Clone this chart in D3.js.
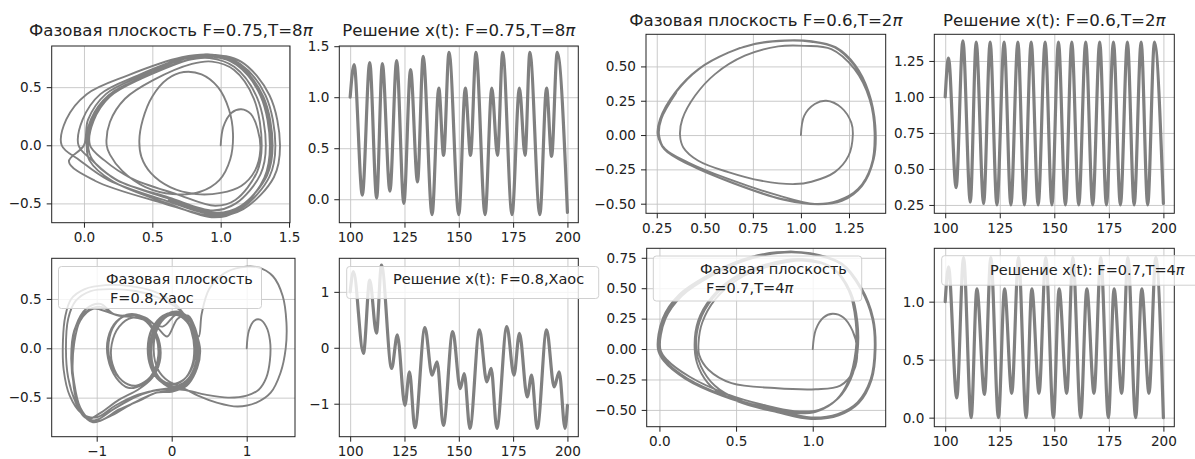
<!DOCTYPE html>
<html lang="ru">
<head>
<meta charset="UTF-8">
<title>Duffing</title>
<script src="https://cdn.jsdelivr.net/npm/d3@7"></script>
<style>
body { margin: 0; background: #fff; }
text { font-family: 'DejaVu Sans', sans-serif; fill: #222; }
.grid line { stroke: #c4c4c4; stroke-width: 0.9; }
.grid path { display: none; }
.ax path { display: none; }
.ax line { stroke: #222; }
.ax text { font-size: 13.6px; }
.trace { fill: none; stroke: #808080; stroke-linejoin: round; stroke-linecap: round; }
.title { font-size: 16.6px; text-anchor: middle; }
.leg rect { fill: #fff; fill-opacity: 0.8; stroke: #d0d0d0; }
.leg text { font-size: 14.5px; }
</style>
</head>
<body>
<svg width="1195" height="459"></svg>
<script>
// ---- tick labels ----
var ticksT = [100, 125, 150, 175, 200];
var ticksP1x = [0, 0.5, 1, 1.5], ticksP1y = [-0.5, 0, 0.5];
var ticksP2y = [0, 0.5, 1, 1.5];
var ticksP3x = [0.25, 0.5, 0.75, 1, 1.25], ticksP3y = [-0.5, -0.25, 0, 0.25, 0.5];
var ticksP4y = [0.25, 0.5, 0.75, 1, 1.25];
var ticksP5x = [-1, 0, 1], ticksP5y = [-0.5, 0, 0.5];
var ticksP6y = [-1, 0, 1];
var ticksP7x = [0, 0.5, 1], ticksP7y = [-0.5, -0.25, 0, 0.25, 0.5, 0.75];
var ticksP8y = [0, 0.5, 1];

// ---- x(t): turning points ----
var t75 = [100,101.8,105.6,109,112.2,114.8,118.3,121.4,124.7,127.8,131,133.6,137.7,140.8,143,145.5,150,153,155.4,157.9,162.1,165.2,167.8,170.2,174.5,177.9,180.5,182.7,187.3,190.4,192.7,195.3,200];
var x75 = [1.0,1.32,0.04,1.34,0.01,1.33,0.08,1.36,-0.04,1.27,0.17,1.40,-0.15,1.09,0.43,1.44,-0.15,1.09,0.43,1.44,-0.15,1.09,0.43,1.44,-0.15,1.09,0.43,1.44,-0.15,1.09,0.42,1.44,-0.13];

var t06 = [100,101.5,105,108.1,111.5,114.2,117.6,120.6,123.7,127.0,130.1,133.3,136.3,139.4,142.6,145.8,148.9,151.9,155.1,158.0,161.2,164.4,167.6,170.8,173.9,177.1,180.3,183.5,186.6,189.8,192.8,195.9,200];
var x06 = [1.0,1.27,0.37,1.39,0.27,1.38,0.26,1.38,0.25,1.38,0.25,1.38,0.25,1.38,0.25,1.38,0.25,1.38,0.25,1.38,0.25,1.38,0.25,1.38,0.25,1.38,0.25,1.38,0.25,1.38,0.25,1.38,0.26];

var t08 = [100,101.5,106.1,109,112.1,114.4,119.1,121.7,125.2,127.3,129.8,134.4,137.7,140,142.9,147.2,150.7,152.5,155.1,159.5,162.9,164.9,167.5,172.1,175.4,177.9,181.5,183.5,186.1,190.4,193.9,196.2,198.9,200];
var x08 = [1.0,1.36,-0.10,1.21,0.26,1.48,-0.37,0.23,-1.03,-0.43,-1.43,0.36,-0.49,-0.25,-1.39,0.29,-0.73,-0.46,-1.44,0.32,-0.61,-0.37,-1.44,0.38,-0.49,0.26,-0.88,-0.49,-1.44,0.32,-0.70,-0.43,-1.44,-1.03];

var t07 = [100,101.5,105.3,108.4,111.9,114.5,118,120.9,124.4,127.2,130.5,133.6,137.1,139.7,143,146.1,149.6,152.2,155.7,158.5,162.1,164.9,168.2,171.3,174.8,177.4,180.9,183.7,187.3,190.1,193.4,196.5,200];
var x07 = [1.0,1.30,0.17,1.38,0.0,1.11,0.20,1.38,0.0,1.11,0.21,1.38,0.0,1.11,0.21,1.38,0.0,1.11,0.21,1.38,0.0,1.11,0.21,1.38,0.0,1.11,0.21,1.38,0.0,1.11,0.21,1.38,0.0];

// ---- phase portraits [x, x'] ----
var phase75 = [
  [1.00,0.00],[1.02,0.16],[1.08,0.28],[1.15,0.31],[1.22,0.27],[1.27,0.14],[1.29,-0.04],[1.25,-0.22],[1.15,-0.35],[1.00,-0.41],
  [0.82,-0.42],[0.63,-0.36],[0.49,-0.24],[0.42,-0.10],[0.405,0.04],[0.43,0.22],[0.50,0.42],[0.61,0.57],[0.73,0.63],[0.86,0.61],
  [0.98,0.50],[1.06,0.31],[1.09,0.10],[1.07,-0.12],[0.99,-0.30],[0.85,-0.40],[0.65,-0.42],[0.45,-0.36],[0.28,-0.22],[0.19,-0.08],
  [0.166,0.00],[0.19,0.20],[0.30,0.40],[0.506,0.56],[0.79,0.70],[0.937,0.72],[1.096,0.65],[1.243,0.40],[1.30,0.00],[1.266,-0.23],
  [1.107,-0.47],[0.96,-0.52],[0.676,-0.42],[0.34,-0.28],[0.15,-0.13],
  [0.044,0.00],[0.07,0.21],[0.19,0.42],[0.43,0.58],[0.751,0.73],[0.918,0.75],[1.099,0.675],[1.266,0.41],[1.33,0.00],[1.291,-0.25],
  [1.111,-0.50],[0.944,-0.56],[0.623,-0.45],[0.24,-0.30],[0.06,-0.13],
  [-0.04,0.00],[-0.01,0.22],[0.12,0.44],[0.392,0.60],[0.752,0.757],[0.939,0.78],[1.141,0.70],[1.328,0.43],[1.40,0.00],[1.357,-0.27],
  [1.155,-0.54],[0.968,-0.60],[0.608,-0.48],[0.18,-0.30],[-0.03,-0.13],
  [-0.163,0.00],[-0.13,0.22],[0.02,0.44],[0.317,0.60],[0.717,0.757],[0.925,0.78],[1.149,0.72],[1.357,0.43],[1.434,0.00],[1.389,-0.275],
  [1.165,-0.55],[0.957,-0.61],[0.557,-0.49],[0.08,-0.305],[-0.11,-0.14],
  [0.00,0.00],[0.03,0.22],[0.16,0.44],[0.408,0.59],[0.748,0.747],[0.925,0.77],[1.115,0.693],[1.292,0.424],[1.36,0.00],[1.319,-0.28],
  [1.129,-0.56],[0.952,-0.62],[0.612,-0.50],[0.21,-0.31],[0.04,-0.13],
  [0.02,0.00],[0.05,0.22],[0.18,0.43],[0.428,0.585],[0.768,0.737],[0.945,0.76],[1.135,0.684],[1.312,0.418],[1.38,0.00],[1.339,-0.26],
  [1.149,-0.52],[0.972,-0.58],[0.632,-0.464],[0.23,-0.29],[0.06,-0.12],
  [0.03,0.00],[0.06,0.22],[0.19,0.44],[0.44,0.585],[0.78,0.74],[0.95,0.765],[1.14,0.69],[1.30,0.42],[1.37,0.00],[1.33,-0.27],
  [1.14,-0.53],[0.96,-0.59],[0.62,-0.47]
];

var phase06 = [
  [1.000,0.000],[1.017,0.140],[1.072,0.226],[1.132,0.250],[1.210,0.200],[1.262,0.090],[1.270,0.000],[1.248,-0.150],[1.176,-0.270],[1.055,-0.340],
  [0.968,-0.357],[0.795,-0.333],[0.622,-0.270],[0.466,-0.187],[0.388,-0.090],[0.371,0.000],[0.383,0.116],[0.449,0.286],[0.553,0.444],[0.708,0.578],
  [0.882,0.646],[1.020,0.650],[1.158,0.626],[1.279,0.480],[1.357,0.262],[1.383,0.019],[1.366,-0.223],[1.297,-0.393],[1.193,-0.478],[1.072,-0.502],
  [0.882,-0.440],[0.622,-0.320],[0.414,-0.200],[0.293,-0.100],[0.255,0.000],[0.267,0.116],[0.345,0.310],[0.466,0.480],[0.622,0.600],[0.760,0.663],
  [0.916,0.687],[1.054,0.680],[1.176,0.638],[1.279,0.505],[1.349,0.310],[1.383,0.068],[1.375,-0.175],[1.314,-0.369],[1.210,-0.478],[1.090,-0.502],
  [0.900,-0.465],[0.640,-0.345],[0.420,-0.215],[0.290,-0.105],[0.258,0.000],[0.270,0.120],[0.350,0.312],[0.470,0.482],[0.625,0.602],[0.763,0.666],
  [0.918,0.690],[1.056,0.684],[1.180,0.640],[1.283,0.508],[1.353,0.312],[1.387,0.070],[1.379,-0.175],[1.318,-0.370],[1.213,-0.480],[1.092,-0.505],
  [0.905,-0.470],[0.645,-0.350],[0.425,-0.220],[0.295,-0.110],[0.262,0.000],[0.274,0.118],[0.352,0.310]
];

var phase08 = [
  [1.00,0.00],[1.03,0.18],[1.10,0.28],[1.18,0.29],[1.26,0.22],[1.31,0.08],[1.31,-0.12],[1.26,-0.30],[1.16,-0.42],[1.00,-0.48],
  [0.75,-0.50],[0.45,-0.47],[0.15,-0.42],[-0.15,-0.42],[-0.45,-0.47],[-0.75,-0.58],[-1.00,-0.70],[-1.20,-0.66],[-1.36,-0.48],[-1.44,-0.22],
  [-1.45,0.08],[-1.42,0.32],[-1.34,0.50],[-1.16,0.60],[-0.88,0.64],[-0.55,0.63],[-0.25,0.58],[0.00,0.48],[0.15,0.36],
  [0.26,0.18],[0.30,0.00],[0.27,-0.18],[0.16,-0.32],[0.00,-0.37],[-0.16,-0.32],[-0.27,-0.17],[-0.31,0.02],[-0.26,0.20],[-0.12,0.33],
  [0.04,0.36],[0.19,0.29],[0.30,0.14],[0.34,-0.03],[0.30,-0.20],[0.18,-0.34],[0.00,-0.40],
  [-0.25,-0.43],[-0.50,-0.50],[-0.78,-0.62],[-1.02,-0.73],[-1.18,-0.68],[-1.28,-0.50],[-1.32,-0.25],[-1.30,0.05],[-1.22,0.28],[-1.05,0.40],[-0.86,0.37],
  [-0.70,0.33],[-0.52,0.34],[-0.34,0.27],[-0.21,0.12],[-0.17,-0.05],[-0.22,-0.22],[-0.36,-0.34],[-0.53,-0.38],[-0.70,-0.30],[-0.82,-0.13],
  [-0.84,0.06],[-0.76,0.24],[-0.60,0.34],[-0.42,0.33],[-0.26,0.22],[-0.16,0.05],[-0.16,-0.14],[-0.26,-0.30],[-0.45,-0.42],[-0.70,-0.52],
  [-0.96,-0.66],[-1.10,-0.71],[-1.22,-0.60],[-1.30,-0.35],[-1.33,-0.05],[-1.28,0.22],[-1.14,0.40],[-0.95,0.45],[-0.78,0.35],
  [-0.62,0.33],[-0.45,0.33],[-0.29,0.25],[-0.20,0.10],[-0.18,-0.08],[-0.25,-0.25],[-0.40,-0.37],[-0.58,-0.40],[-0.74,-0.30],[-0.85,-0.10],
  [-0.85,0.10],[-0.74,0.27],[-0.56,0.34],[-0.35,0.31],[-0.18,0.20],[-0.06,0.12],
  [0.08,0.30],[0.22,0.33],[0.32,0.18],[0.36,0.00],[0.32,-0.20],[0.20,-0.35],[0.02,-0.40],[-0.15,-0.33],[-0.26,-0.18],[-0.29,0.02],
  [-0.22,0.22],[-0.08,0.34],[0.10,0.37],[0.25,0.28],[0.36,0.12],
  [0.40,0.35],[0.50,0.60],[0.70,0.76],[0.92,0.82],[1.15,0.82],[1.35,0.73],[1.48,0.53],[1.53,0.26],[1.52,0.00],[1.45,-0.25],
  [1.32,-0.45],[1.13,-0.55],[0.88,-0.59],[0.60,-0.55],[0.35,-0.48],[0.15,-0.40],[-0.05,-0.33],[-0.18,-0.22],[-0.24,-0.02],[-0.19,0.20],
  [-0.05,0.33],[0.12,0.36],[0.27,0.27],[0.35,0.10],[0.37,-0.08],[0.32,-0.24],[0.20,-0.38],[0.00,-0.44],[-0.20,-0.45],[-0.40,-0.52],
  [-0.70,-0.62],[-0.98,-0.74],[-1.16,-0.70],[-1.28,-0.55],[-1.38,-0.30],[-1.41,0.00],[-1.38,0.30],[-1.28,0.48],[-1.08,0.58],[-0.80,0.60],
  [-0.48,0.58],[-0.20,0.52],[0.05,0.42],[0.22,0.30],[0.33,0.12],[0.36,-0.06],[0.31,-0.22],[0.19,-0.35],[0.02,-0.40],[-0.14,-0.34],
  [-0.24,-0.20],[-0.27,0.00],[-0.21,0.20],[-0.07,0.33],[0.09,0.36],[0.24,0.30],[0.33,0.15],[0.38,-0.02],[0.34,-0.20],[0.22,-0.36],
  [0.05,-0.42],[-0.20,-0.45],[-0.50,-0.55],[-0.80,-0.68],[-1.05,-0.75],[-1.20,-0.65],
  [-1.30,-0.40],[-1.34,-0.10],[-1.30,0.18],[-1.16,0.36],[-0.95,0.42],[-0.75,0.34],[-0.57,0.32],[-0.40,0.30],[-0.25,0.20],[-0.17,0.03],
  [-0.19,-0.16],[-0.30,-0.31],[-0.48,-0.38],[-0.66,-0.33],[-0.79,-0.16],[-0.80,0.04],[-0.70,0.22],[-0.53,0.31],[-0.33,0.28],[-0.12,0.22],
  [0.06,0.34],[0.21,0.31],[0.31,0.16],[0.35,-0.02],[0.31,-0.19],[0.19,-0.33],[0.01,-0.39],[-0.16,-0.33],[-0.28,-0.19],[-0.32,0.00],
  [-0.27,0.19],[-0.13,0.32],[0.03,0.35],[0.18,0.29],[0.28,0.15],[0.32,-0.01],[0.28,-0.18],[0.17,-0.31],[0.00,-0.36],[-0.15,-0.31],
  [-0.25,-0.17],[-0.28,0.01],[-0.23,0.19],[-0.10,0.31],[0.06,0.34],[0.20,0.27],[0.29,0.13],[0.33,-0.04]
];

var phase07 = [
  [1.00,0.00],[1.02,0.16],[1.07,0.26],[1.13,0.29],[1.20,0.26],[1.26,0.15],[1.29,0.00],[1.27,-0.17],[1.18,-0.30],[1.02,-0.33],
  [0.75,-0.32],[0.47,-0.28],[0.32,-0.17],[0.26,-0.05],
  [0.255,0.05],[0.28,0.22],[0.365,0.41],[0.514,0.575],[0.73,0.685],[0.946,0.726],[1.14,0.658],[1.248,0.466],[1.292,0.219],[1.292,-0.027],
  [1.248,-0.247],[1.17,-0.40],[1.04,-0.50],[0.88,-0.51],[0.68,-0.46],[0.44,-0.37],[0.20,-0.23],[0.05,-0.09],
  [0.006,0.00],[0.039,0.247],[0.147,0.438],[0.341,0.603],[0.557,0.726],[0.773,0.789],[0.989,0.781],[1.184,0.699],[1.313,0.493],[1.389,0.247],
  [1.404,0.00],[1.378,-0.247],[1.292,-0.438],[1.162,-0.534],[0.989,-0.562],[0.773,-0.507],[0.52,-0.42],[0.36,-0.30],[0.27,-0.14],
  [0.24,0.00],[0.262,0.225],[0.35,0.42],[0.50,0.585],[0.72,0.695],[0.94,0.735],[1.13,0.668],[1.24,0.475],[1.285,0.225],[1.285,-0.02],
  [1.24,-0.25],[1.16,-0.41],[1.03,-0.51],[0.87,-0.52],[0.66,-0.47],[0.42,-0.38],[0.18,-0.24],[0.04,-0.10],
  [-0.005,0.00],[0.028,0.25],[0.137,0.445],[0.33,0.61],[0.55,0.735],[0.77,0.795],[0.99,0.786],[1.19,0.702],[1.32,0.497],[1.395,0.25],
  [1.41,0.00],[1.385,-0.25],[1.30,-0.445],[1.17,-0.545],[0.99,-0.575],[0.77,-0.52],[0.51,-0.43],[0.34,-0.31],[0.255,-0.15],
  [0.23,0.00],[0.252,0.23],[0.34,0.425],[0.49,0.59],[0.71,0.70],[0.93,0.74],[1.12,0.673],[1.235,0.48],[1.28,0.228],[1.28,-0.015],
  [1.235,-0.255],[1.155,-0.415],[1.02,-0.515],[0.86,-0.525],[0.65,-0.475],[0.41,-0.385],[0.17,-0.245],[0.03,-0.10],
  [-0.01,0.00],[0.022,0.252],[0.13,0.448],[0.325,0.612],[0.545,0.737],[0.765,0.795],[0.985,0.787],[1.185,0.703],[1.316,0.495],[1.392,0.248],
  [1.405,0.00],[1.38,-0.248],[1.295,-0.44],[1.165,-0.54],[0.99,-0.568]
];

var svg = d3.select("svg");
svg.append("rect").attr("width", 1195).attr("height", 459).attr("fill", "#fff");

var f1 = d3.format(".1f"), f2 = d3.format(".2f"), f0 = d3.format("d");

function zip(a, b) { return a.map(function(d, i) { return [d, b[i]]; }); }

function panel(p, i) {
    var x = d3.scaleLinear().domain(p.xd).range([p.box[0], p.box[1]]);
    var y = d3.scaleLinear().domain(p.yd).range([p.box[3], p.box[2]]);
    var w = p.box[1] - p.box[0], h = p.box[3] - p.box[2];
    var g = svg.append("g");

    g.append("clipPath").attr("id", "clip" + i)
        .append("rect").attr("x", p.box[0]).attr("y", p.box[2]).attr("width", w).attr("height", h);

    g.append("g").attr("class", "grid").attr("transform", "translate(0," + p.box[3] + ")")
        .call(d3.axisBottom(x).tickValues(p.xt).tickSize(-h).tickFormat(""));
    g.append("g").attr("class", "grid").attr("transform", "translate(" + p.box[0] + ",0)")
        .call(d3.axisLeft(y).tickValues(p.yt).tickSize(-w).tickFormat(""));

    var line = d3.line().x(function(d) { return x(d[0]); }).y(function(d) { return y(d[1]); })
        .curve(p.time ? d3.curveMonotoneX : d3.curveCatmullRom.alpha(0.5));
    g.append("path").attr("class", "trace").attr("clip-path", "url(#clip" + i + ")")
        .attr("stroke-width", p.time ? 3.2 : 1.9)
        .attr("d", line(p.data));

    g.append("rect").attr("x", p.box[0]).attr("y", p.box[2]).attr("width", w).attr("height", h)
        .attr("fill", "none").attr("stroke", "#222").attr("stroke-width", 1);

    g.append("g").attr("class", "ax").attr("transform", "translate(0," + p.box[3] + ")")
        .call(d3.axisBottom(x).tickValues(p.xt).tickSize(5).tickPadding(5).tickFormat(p.xf));
    g.append("g").attr("class", "ax").attr("transform", "translate(" + p.box[0] + ",0)")
        .call(d3.axisLeft(y).tickValues(p.yt).tickSize(5).tickPadding(5).tickFormat(p.yf));

    if (p.title) {
        var t = g.append("text").attr("class", "title")
            .attr("x", (p.box[0] + p.box[1]) / 2).attr("y", p.title[1]);
        t.append("tspan").text(p.title[0]);
        t.append("tspan").attr("font-style", "italic").text("π");
    }
    if (p.leg) {
        var lg = g.append("g").attr("class", "leg");
        lg.append("rect").attr("x", p.leg.r[0]).attr("y", p.leg.r[1])
            .attr("width", p.leg.r[2]).attr("height", p.leg.r[3]).attr("rx", 3);
        p.leg.lines.forEach(function(l) {
            var tx = lg.append("text").attr("x", l[1]).attr("y", l[2]);
            tx.append("tspan").text(l[0]);
            if (l[3]) tx.append("tspan").attr("font-style", "italic").text(l[3]);
        });
    }
}

var panels = [
    {box: [51.7, 290, 46, 222.7], xd: [-0.236, 1.507], yd: [-0.666, 0.854], xt: ticksP1x, yt: ticksP1y, xf: f1, yf: f1,
     data: phase75, title: ["Фазовая плоскость F=0.75,T=8", 36]},
    {box: [339.3, 578.3, 46, 222.7], xd: [95, 205], yd: [-0.23, 1.502], xt: ticksT, yt: ticksP2y, xf: f0, yf: f1,
     data: zip(t75, x75), time: true, title: ["Решение x(t): F=0.75,T=8", 36]},
    {box: [646, 885.7, 34.3, 213.3], xd: [0.194, 1.441], yd: [-0.570, 0.734], xt: ticksP3x, yt: ticksP3y, xf: f2, yf: f2,
     data: phase06, title: ["Фазовая плоскость F=0.6,T=2", 26]},
    {box: [934.3, 1174.3, 34.3, 213.3], xd: [95, 205], yd: [0.192, 1.435], xt: ticksT, yt: ticksP4y, xf: f0, yf: f2,
     data: zip(t06, x06), time: true, title: ["Решение x(t): F=0.6,T=2", 25.5]},
    {box: [51.7, 295, 258.3, 436.7], xd: [-1.6, 1.644], yd: [-0.896, 0.912], xt: ticksP5x, yt: ticksP5y, xf: f0, yf: f1,
     data: phase08, leg: {r: [58.5, 266.5, 203, 42], lines: [["Фазовая плоскость", 106, 284.3], ["F=0.8,Хаос", 110, 302.5]]}},
    {box: [339.3, 578.3, 258.3, 436.7], xd: [95, 205], yd: [-1.59, 1.60], xt: ticksT, yt: ticksP6y, xf: f0, yf: f0,
     data: zip(t08, x08), time: true, leg: {r: [346.7, 266.5, 252, 32], lines: [["Решение x(t): F=0.8,Хаос", 393, 284.3]]}},
    {box: [646.7, 885.7, 248.3, 426.7], xd: [-0.083, 1.476], yd: [-0.638, 0.828], xt: ticksP7x, yt: ticksP7y, xf: f1, yf: f2,
     data: phase07, leg: {r: [653.3, 256, 208.4, 45], lines: [["Фазовая плоскость", 700, 274.3], ["F=0.7,T=4", 706, 292.7, "π"]]}},
    {box: [934.3, 1174.3, 248.3, 426.7], xd: [95, 205], yd: [-0.078, 1.46], xt: ticksT, yt: ticksP8y, xf: f0, yf: f1,
     data: zip(t07, x07), time: true, leg: {r: [941.7, 255.7, 260, 29.5], lines: [["Решение x(t): F=0.7,T=4", 990, 275, "π"]]}}
];

panels.forEach(panel);
</script>
</body>
</html>
